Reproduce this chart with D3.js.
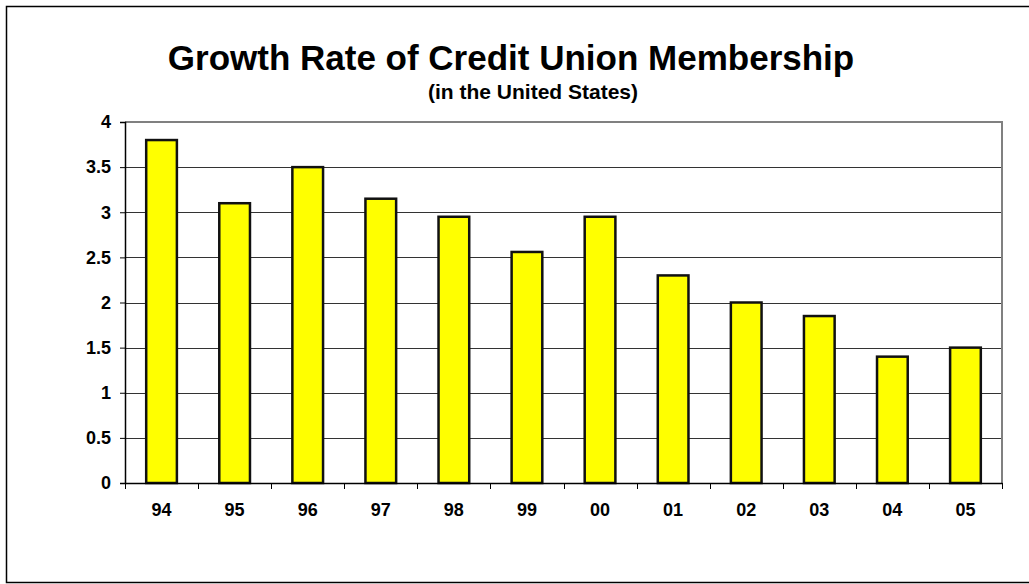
<!DOCTYPE html>
<html>
<head>
<meta charset="utf-8">
<script src="https://cdn.jsdelivr.net/npm/d3@7"></script>
<style>
  body { margin: 0; background: #fff; }
  text { font-family: Arial, "Liberation Sans", sans-serif; font-weight: bold; }
</style>
</head>
<body>
<div id="chart"></div>
<script>
const years = ["94", "95", "96", "97", "98", "99", "00", "01", "02", "03", "04", "05"];
const growth = [3.8, 3.1, 3.5, 3.15, 2.95, 2.56, 2.95, 2.3, 2.0, 1.85, 1.4, 1.5];
const yTicks = [0, 0.5, 1, 1.5, 2, 2.5, 3, 3.5, 4];

const W = 1029, H = 584;
const margin = { top: 122, right: 27, bottom: 101, left: 125 };
const width = W - margin.left - margin.right;
const height = H - margin.top - margin.bottom;

const root = d3.select("#chart").append("svg")
  .attr("width", W)
  .attr("height", H);

// outer frame (right side runs off the page)
root.append("rect")
  .attr("x", 6.5).attr("y", 6.5)
  .attr("width", 1040).attr("height", 576)
  .attr("fill", "none")
  .attr("stroke", "#000")
  .attr("stroke-width", 1.5);

root.append("text")
  .attr("x", 511).attr("y", 70)
  .attr("text-anchor", "middle")
  .style("font-size", "35px")
  .text("Growth Rate of Credit Union Membership");

root.append("text")
  .attr("x", 533).attr("y", 99)
  .attr("text-anchor", "middle")
  .style("font-size", "21px")
  .text("(in the United States)");

const svg = root.append("g")
  .attr("transform", `translate(${margin.left},${margin.top})`);

const x = d3.scaleBand()
  .domain(years)
  .range([0, width])
  .paddingInner(0.58)
  .paddingOuter(0.29);

const y = d3.scaleLinear()
  .domain([0, 4])
  .range([height, 0]);

// gridlines
svg.append("g")
  .selectAll("line")
  .data(yTicks.filter(d => d > 0 && d < 4))
  .enter().append("line")
  .attr("x1", 0).attr("x2", width)
  .attr("y1", d => Math.round(y(d)) + 0.5)
  .attr("y2", d => Math.round(y(d)) + 0.5)
  .attr("stroke", "#333")
  .attr("stroke-width", 1);

// plot area border: top and right in grey
svg.append("line")
  .attr("x1", 0).attr("x2", width + 1)
  .attr("y1", 0).attr("y2", 0)
  .attr("stroke", "#808080").attr("stroke-width", 2);
svg.append("line")
  .attr("x1", width).attr("x2", width)
  .attr("y1", 0).attr("y2", height)
  .attr("stroke", "#808080").attr("stroke-width", 2);

// bars
svg.selectAll(".bar")
  .data(years)
  .enter().append("rect")
  .attr("class", "bar")
  .attr("x", d => x(d))
  .attr("width", x.bandwidth())
  .attr("y", (d, i) => y(growth[i]))
  .attr("height", (d, i) => height - y(growth[i]))
  .attr("fill", "#ffff00")
  .attr("stroke", "#111")
  .attr("stroke-width", 2.5);

// y axis
const yAxis = svg.append("g")
  .call(d3.axisLeft(y).tickValues(yTicks).tickSize(5).tickPadding(9).tickFormat(d3.format("")));
yAxis.selectAll("text").style("font-size", "18px").attr("fill", "#000");
yAxis.select(".domain").attr("stroke", "#000").attr("stroke-width", 1.5);

// x axis with ticks between categories
const xAxis = svg.append("g")
  .attr("transform", `translate(0,${height})`)
  .call(d3.axisBottom(x).tickSize(0).tickPadding(20));
xAxis.selectAll("text").style("font-size", "18px").attr("fill", "#000");
xAxis.select(".domain").attr("stroke", "#000").attr("stroke-width", 1.5);

const step = x.step();
svg.append("g")
  .selectAll("line")
  .data(d3.range(years.length + 1))
  .enter().append("line")
  .attr("x1", i => Math.round(i * step) + 0.5)
  .attr("x2", i => Math.round(i * step) + 0.5)
  .attr("y1", height)
  .attr("y2", height + 6)
  .attr("stroke", "#000");
</script>
</body>
</html>
